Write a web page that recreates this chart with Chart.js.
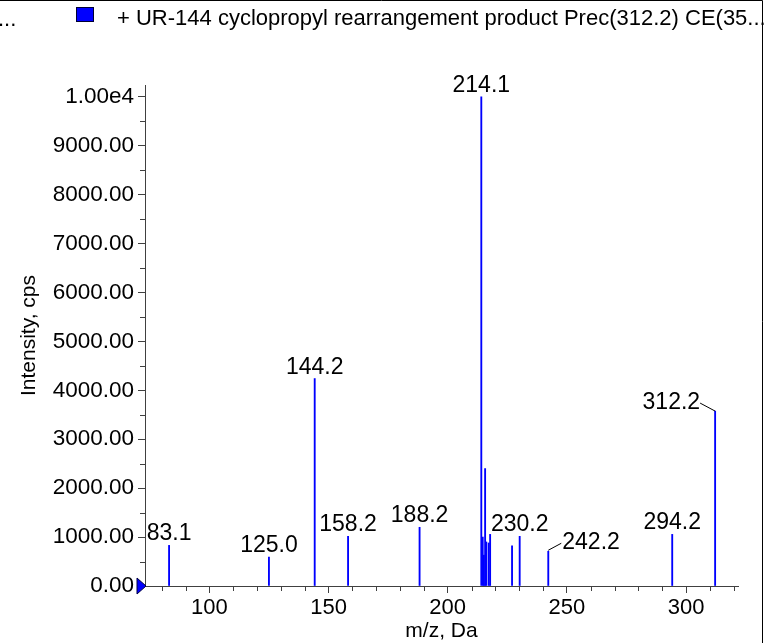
<!DOCTYPE html>
<html><head><meta charset="utf-8">
<script src="https://cdn.jsdelivr.net/npm/chart.js@4/dist/chart.umd.min.js"></script>
<style>html,body{margin:0;padding:0;background:#fff;overflow:hidden}#wrap{width:765px;height:643px;position:relative}</style>
</head><body><div id="wrap"><canvas id="c" width="765" height="643"></canvas></div>
<script>
// ---- data ----
const mz        = [83.1, 125.0, 144.2, 158.2, 188.2, 214.1, 214.7, 215.2, 215.7, 216.2, 217.2, 217.8, 227.0, 230.2, 242.2, 294.2, 312.2];
const intensity = [830,  590,   4240,  1015,  1200,  10000, 1000,  630,   2400,  900,   880,   1055,  820,   1015,  710,   1055,  3575];
const peakLabels = ['83.1', '125.0', '144.2', '158.2', '188.2', '214.1', '230.2', '242.2', '294.2', '312.2'];
const xTickValues = [100, 150, 200, 250, 300];
const xTickLabels = ['100', '150', '200', '250', '300'];
const yTickValues = [0, 1000, 2000, 3000, 4000, 5000, 6000, 7000, 8000, 9000, 10000];
const yTickLabels = ['0.00', '1000.00', '2000.00', '3000.00', '4000.00', '5000.00', '6000.00', '7000.00', '8000.00', '9000.00', '1.00e4'];
const legendPrefix = '...';
const legendText = '+ UR-144 cyclopropyl rearrangement product Prec(312.2) CE(35...';
const xTitle = 'm/z, Da';
const yTitle = 'Intensity, cps';
const xMin = 73.0, xMax = 321.8, yMin = 0, yMax = 10240;

// ---- rendering ----
const FONT = "'Liberation Sans', Arial, sans-serif";
const BLUE = '#0000ff';
const AXIS = '#404040';

const headerPlugin = {
  id: 'header',
  afterDraw(chart) {
    const ctx = chart.ctx;
    ctx.save();
    ctx.strokeStyle = '#000'; ctx.lineWidth = 1;
    ctx.beginPath(); ctx.moveTo(0, 0.5); ctx.lineTo(762.5, 0.5); ctx.lineTo(762.5, 643); ctx.stroke();
    ctx.fillStyle = '#000'; ctx.font = '22px ' + FONT; ctx.textBaseline = 'middle'; ctx.textAlign = 'left';
    ctx.fillText(legendPrefix, -2, 20);
    ctx.fillStyle = BLUE; ctx.fillRect(76.5, 7.5, 17, 14);
    ctx.strokeStyle = '#000033'; ctx.strokeRect(76.5, 7.5, 17, 14);
    ctx.fillStyle = '#000'; ctx.fillText(legendText, 117, 19);
    ctx.restore();
  }
};

const minorTickPlugin = {
  id: 'minorTicks',
  afterDraw(chart) {
    const ctx = chart.ctx, xs = chart.scales.x, ys = chart.scales.y;
    ctx.save(); ctx.strokeStyle = AXIS; ctx.lineWidth = 1;
    ctx.beginPath();
    for (let v = Math.ceil(xMin / 10) * 10; v <= xMax; v += 10) {
      if (v % 50 === 0) continue;
      const px = Math.round(xs.getPixelForValue(v)) + 0.5;
      ctx.moveTo(px, ys.bottom); ctx.lineTo(px, ys.bottom + 5);
    }
    for (let v = 500; v <= yMax; v += 1000) {
      const py = Math.round(ys.getPixelForValue(v)) + 0.5;
      ctx.moveTo(xs.left, py); ctx.lineTo(xs.left - 5, py);
    }
    ctx.stroke();
    const ox = xs.left, oy = ys.getPixelForValue(0);
    ctx.fillStyle = BLUE; ctx.strokeStyle = '#000040';
    ctx.beginPath(); ctx.moveTo(ox - 8, oy - 8); ctx.lineTo(ox + 1, oy); ctx.lineTo(ox - 8, oy + 8); ctx.closePath();
    ctx.fill(); ctx.stroke();
    ctx.restore();
  }
};

const leaderSide = { '242.2': 'right', '312.2': 'left' };
const peakLabelPlugin = {
  id: 'peakLabels',
  afterDatasetsDraw(chart) {
    const ctx = chart.ctx, xs = chart.scales.x, ys = chart.scales.y;
    ctx.save(); ctx.fillStyle = '#000'; ctx.font = '23px ' + FONT; ctx.textBaseline = 'alphabetic';
    peakLabels.forEach(lbl => {
      const v = parseFloat(lbl);
      let best = 0;
      mz.forEach((m, i) => { if (Math.abs(m - v) < Math.abs(mz[best] - v)) best = i; });
      const px = xs.getPixelForValue(mz[best]);
      const py = ys.getPixelForValue(intensity[best]);
      const side = leaderSide[lbl];
      if (side === 'right') {
        ctx.strokeStyle = '#000'; ctx.lineWidth = 1;
        ctx.beginPath(); ctx.moveTo(px, py - 1); ctx.lineTo(px + 13, py - 8); ctx.stroke();
        ctx.textAlign = 'left'; ctx.fillText(lbl, px + 14, py - 2);
      } else if (side === 'left') {
        ctx.strokeStyle = '#000'; ctx.lineWidth = 1;
        ctx.beginPath(); ctx.moveTo(px, py); ctx.lineTo(px - 15, py - 8); ctx.stroke();
        ctx.textAlign = 'right'; ctx.fillText(lbl, px - 15, py - 2);
      } else {
        ctx.textAlign = 'center'; ctx.fillText(lbl, px, py - 5);
      }
    });
    ctx.restore();
  }
};

new Chart(document.getElementById('c'), {
  type: 'bar',
  data: {
    datasets: [{
      data: mz.map((m, i) => ({ x: m, y: intensity[i] })),
      backgroundColor: BLUE,
      borderWidth: 0,
      barThickness: 1.2,
      grouped: false
    }]
  },
  options: {
    responsive: false,
    animation: false,
    devicePixelRatio: 1,
    layout: { padding: { top: 85, right: 27, left: 0, bottom: 0 } },
    plugins: { legend: { display: false }, tooltip: { enabled: false } },
    scales: {
      x: {
        type: 'linear', min: xMin, max: xMax, offset: false,
        afterBuildTicks: s => { s.ticks = xTickValues.map(v => ({ value: v })); },
        afterFit: s => { s.height = 57; },
        ticks: { callback: (v, i) => xTickLabels[i], font: { family: FONT, size: 22 }, color: '#000', padding: 2, maxRotation: 0, autoSkip: false },
        grid: { drawOnChartArea: false, drawTicks: true, tickLength: 7, color: AXIS, offset: false },
        border: { color: AXIS, width: 1 },
        title: { display: true, text: xTitle, font: { family: FONT, size: 21 }, color: '#000', padding: { top: 0, bottom: -1 } }
      },
      y: {
        min: yMin, max: yMax,
        afterBuildTicks: s => { s.ticks = yTickValues.map(v => ({ value: v })); },
        afterFit: s => { s.width = 145; },
        ticks: { callback: (v, i) => yTickLabels[i], font: { family: FONT, size: 22.5 }, color: '#000', padding: 4, autoSkip: false },
        grid: { drawOnChartArea: false, drawTicks: true, tickLength: 7, color: AXIS },
        border: { color: AXIS, width: 1 },
        title: { display: true, text: yTitle, font: { family: FONT, size: 21 }, color: '#000', padding: { top: 17, bottom: 0 } }
      }
    }
  },
  plugins: [headerPlugin, minorTickPlugin, peakLabelPlugin]
});
</script>
</body></html>
